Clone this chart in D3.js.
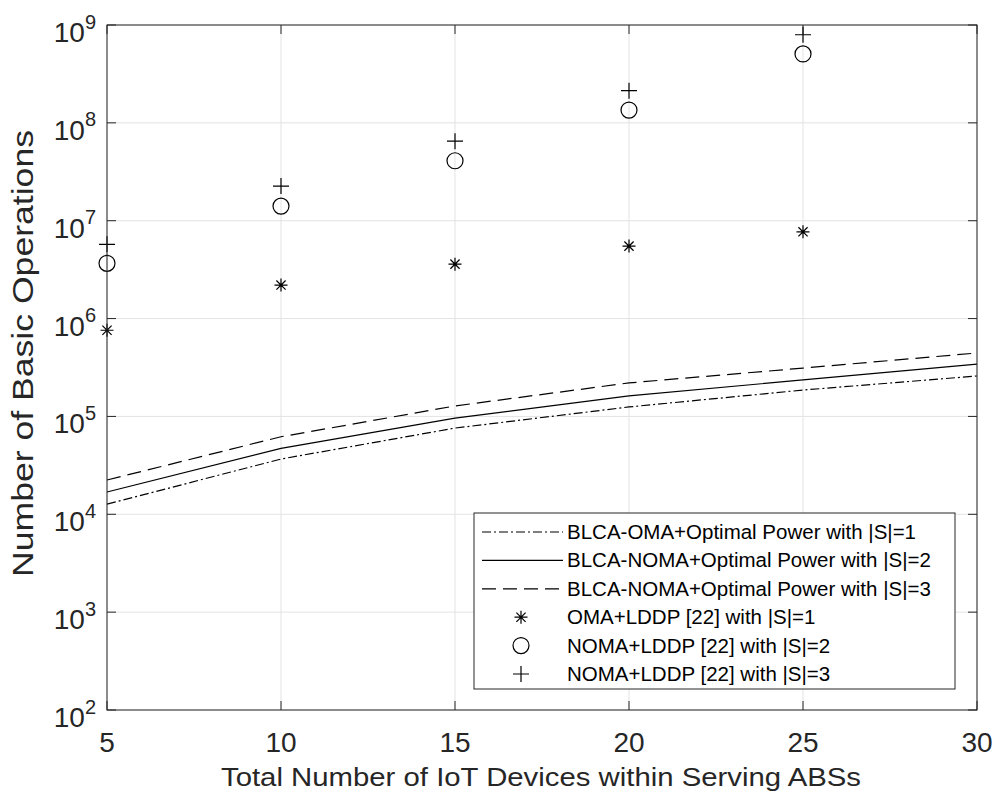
<!DOCTYPE html>
<html>
<head>
<meta charset="utf-8">
<script src="https://cdn.jsdelivr.net/npm/d3@7"></script>
<style>
  body { margin: 0; background: #fff; }
  svg { font-family: "Liberation Sans", Arial, sans-serif; }
</style>
</head>
<body>
<div id="chart"></div>
<script>
// x values (number of IoT devices)
const devices = [5, 10, 15, 20, 25, 30];
const markerDevices = [5, 10, 15, 20, 25];

// proposed scheme curves
const blcaOma1 = [1.27e4, 3.67e4, 7.6e4, 1.25e5, 1.86e5, 2.59e5];
const blcaNoma2 = [1.69e4, 4.72e4, 9.6e4, 1.62e5, 2.36e5, 3.43e5];
const blcaNoma3 = [2.24e4, 6.2e4, 1.28e5, 2.2e5, 3.12e5, 4.45e5];

// LDDP baseline markers
const lddpOma1 = [7.6e5, 2.2e6, 3.6e6, 5.5e6, 7.7e6];
const lddpNoma2 = [3.67e6, 1.41e7, 4.1e7, 1.35e8, 5.06e8];
const lddpNoma3 = [5.74e6, 2.26e7, 6.5e7, 2.13e8, 7.95e8];

const xTicks = [5, 10, 15, 20, 25, 30];
const yTickExps = [2, 3, 4, 5, 6, 7, 8, 9];

const legendLabels = [
  "BLCA-OMA+Optimal Power with |S|=1",
  "BLCA-NOMA+Optimal Power with |S|=2",
  "BLCA-NOMA+Optimal Power with |S|=3",
  "OMA+LDDP [22] with |S|=1",
  "NOMA+LDDP [22] with |S|=2",
  "NOMA+LDDP [22] with |S|=3"
];

const width = 994;
const height = 794;
const margin = { top: 25, right: 17, bottom: 84, left: 107 };
const ink = "#262626";

const svg = d3
  .select("#chart")
  .append("svg")
  .attr("width", width)
  .attr("height", height);

const x = d3.scaleLinear().domain([5, 30]).range([margin.left, width - margin.right]);
const y = d3.scaleLog().domain([1e2, 1e9]).range([height - margin.bottom, margin.top]);

const x0 = x.range()[0], x1 = x.range()[1];
const y0 = y.range()[0], y1 = y.range()[1];

// grid
svg.append("g")
  .selectAll("line")
  .data(xTicks)
  .join("line")
  .attr("x1", (d) => x(d)).attr("x2", (d) => x(d))
  .attr("y1", y0).attr("y2", y1)
  .attr("stroke", "#e3e3e3");

svg.append("g")
  .selectAll("line")
  .data(yTickExps)
  .join("line")
  .attr("x1", x0).attr("x2", x1)
  .attr("y1", (d) => y(Math.pow(10, d))).attr("y2", (d) => y(Math.pow(10, d)))
  .attr("stroke", "#e3e3e3");

// lines
const line = d3.line().x((d) => x(d[0])).y((d) => y(d[1]));
const series = [
  { values: blcaOma1, dash: "9,3,2,3" },
  { values: blcaNoma2, dash: null },
  { values: blcaNoma3, dash: "14,7" }
];

series.forEach((s) => {
  svg.append("path")
    .datum(devices.map((d, i) => [d, s.values[i]]))
    .attr("d", line)
    .attr("fill", "none")
    .attr("stroke", "#000")
    .attr("stroke-width", 1.2)
    .attr("stroke-dasharray", s.dash);
});

// marker drawing
function drawMarker(g, type, cx, cy) {
  if (type === "star") {
    const r = 6.5, rd = 4.6;
    g.append("path")
      .attr("d", `M${cx - r},${cy}H${cx + r}M${cx},${cy - r}V${cy + r}` +
        `M${cx - rd},${cy - rd}L${cx + rd},${cy + rd}M${cx - rd},${cy + rd}L${cx + rd},${cy - rd}`)
      .attr("stroke", "#000").attr("stroke-width", 1.2).attr("fill", "none");
  } else if (type === "circle") {
    g.append("circle")
      .attr("cx", cx).attr("cy", cy).attr("r", 8)
      .attr("stroke", "#000").attr("stroke-width", 1.2).attr("fill", "none");
  } else {
    const r = 8;
    g.append("path")
      .attr("d", `M${cx - r},${cy}H${cx + r}M${cx},${cy - r}V${cy + r}`)
      .attr("stroke", "#000").attr("stroke-width", 1.2).attr("fill", "none");
  }
}

const markerSeries = [
  { values: lddpOma1, type: "star" },
  { values: lddpNoma2, type: "circle" },
  { values: lddpNoma3, type: "plus" }
];

const markG = svg.append("g");
markerSeries.forEach((s) => {
  markerDevices.forEach((d, i) => drawMarker(markG, s.type, x(d), y(s.values[i])));
});

// axes box and ticks
svg.append("rect")
  .attr("x", x0).attr("y", y1)
  .attr("width", x1 - x0).attr("height", y0 - y1)
  .attr("fill", "none").attr("stroke", ink).attr("stroke-width", 1);

const tk = 9;
const tickG = svg.append("g").attr("stroke", ink).attr("stroke-width", 1);
xTicks.forEach((t) => {
  tickG.append("line").attr("x1", x(t)).attr("x2", x(t)).attr("y1", y0).attr("y2", y0 - tk);
  tickG.append("line").attr("x1", x(t)).attr("x2", x(t)).attr("y1", y1).attr("y2", y1 + tk);
});
yTickExps.forEach((e) => {
  const yy = y(Math.pow(10, e));
  tickG.append("line").attr("x1", x0).attr("x2", x0 + tk).attr("y1", yy).attr("y2", yy);
  tickG.append("line").attr("x1", x1).attr("x2", x1 - tk).attr("y1", yy).attr("y2", yy);
});

// tick labels
svg.append("g")
  .selectAll("text")
  .data(xTicks)
  .join("text")
  .attr("x", (d) => x(d))
  .attr("y", y0 + 42)
  .attr("text-anchor", "middle")
  .attr("fill", ink)
  .style("font-size", "28px")
  .text((d) => d);

const yLab = svg.append("g")
  .selectAll("text")
  .data(yTickExps)
  .join("text")
  .attr("x", x0 - 11)
  .attr("y", (d) => y(Math.pow(10, d)) + 17)
  .attr("text-anchor", "end")
  .attr("fill", ink)
  .style("font-size", "28px");
yLab.append("tspan").text("10");
yLab.append("tspan")
  .attr("dy", -13.5)
  .style("font-size", "20px")
  .text((d) => d);

// axis titles
svg.append("text")
  .attr("x", 221)
  .attr("y", 786)
  .attr("fill", ink)
  .attr("textLength", 640)
  .attr("lengthAdjust", "spacingAndGlyphs")
  .style("font-size", "25px")
  .text("Total Number of IoT Devices within Serving ABSs");

svg.append("text")
  .attr("transform", `translate(33,577) rotate(-90)`)
  .attr("fill", ink)
  .attr("textLength", 447)
  .attr("lengthAdjust", "spacingAndGlyphs")
  .style("font-size", "29px")
  .text("Number of Basic Operations");

// legend
const lgX = 474, lgY = 513, lgW = 481, lgH = 176, rowH = 28.4;
const legend = svg.append("g");
legend.append("rect")
  .attr("x", lgX).attr("y", lgY).attr("width", lgW).attr("height", lgH)
  .attr("fill", "#fff").attr("stroke", ink).attr("stroke-width", 1);

legendLabels.forEach((label, i) => {
  const ry = lgY + 19 + i * rowH;
  if (i < 3) {
    legend.append("line")
      .attr("x1", lgX + 8).attr("x2", lgX + 89)
      .attr("y1", ry).attr("y2", ry)
      .attr("stroke", "#000").attr("stroke-width", 1.2)
      .attr("stroke-dasharray", series[i].dash);
  } else {
    drawMarker(legend, markerSeries[i - 3].type, lgX + 47, ry);
  }
  legend.append("text")
    .attr("x", lgX + 93)
    .attr("y", ry + 7)
    .attr("fill", "#000")
    .style("font-size", "20.5px")
    .text(label);
});
</script>
</body>
</html>
